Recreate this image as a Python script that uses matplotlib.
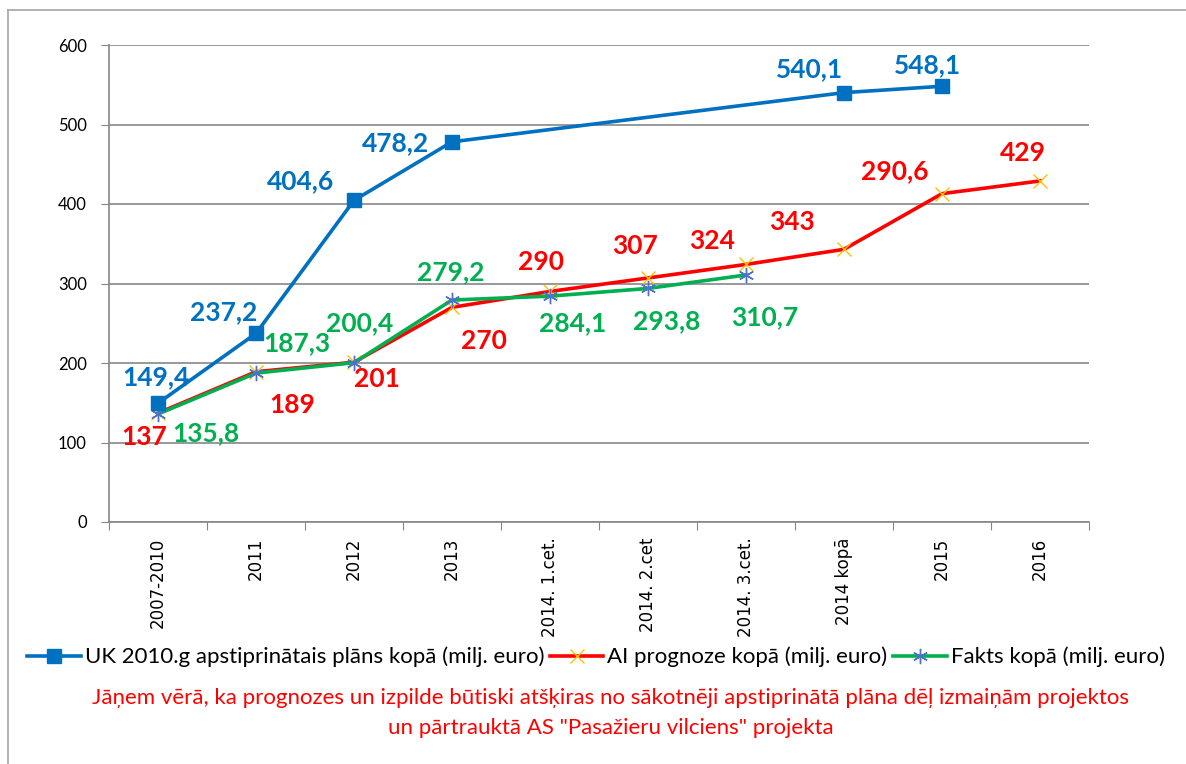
import matplotlib
matplotlib.use("Agg")
import matplotlib.pyplot as plt
from matplotlib.lines import Line2D
import numpy as np

# categories and series
categories = ["2007-2010", "2011", "2012", "2013", "2014. 1.cet.", "2014. 2.cet",
              "2014. 3.cet.", "2014 kopā", "2015", "2016"]
plan_idx = [0, 1, 2, 3, 7, 8]
plan_vals = [149.4, 237.2, 404.6, 478.2, 540.1, 548.1]
prog_vals = [137, 189, 201, 270, 290, 307, 324, 343, 413, 429]
prog_labels = ["137", "189", "201", "270", "290", "307", "324", "343", "290,6", "429"]
fact_vals = [135.8, 187.3, 200.4, 279.2, 284.1, 293.8, 310.7]

legend_names = ["UK 2010.g apstiprinātais plāns kopā (milj. euro)",
                "AI prognoze kopā (milj. euro)",
                "Fakts kopā (milj. euro)"]
note = ("Jāņem vērā, ka prognozes un izpilde būtiski atšķiras no sākotnēji apstiprinātā plāna dēļ izmaiņām projektos\n"
        "un pārtrauktā AS \"Pasažieru vilciens\" projekta")

# label offsets in pixels (dx, dy)
plan_off = [(-2, 26), (-32, 21), (-53, 19), (-56, -1), (-35, 23), (-15, 21)]
prog_off = [(-14, -24), (36, -33), (23, -17), (32, -34), (-9, 29), (-13, 32),
            (-34, 23), (-52, 27), (-47, 23), (-17, 28)]
fact_off = [(48, -19), (41, 30), (6, 40), (-1, 28), (23, -27), (19, -33), (19, -42)]

BLUE = "#0070C0"
RED = "#FF0000"
GREEN = "#00B050"
GRID = "#868686"

plt.rcParams["font.family"] = ["Lato", "DejaVu Sans"]

fig = plt.figure(figsize=(11.86, 7.64), dpi=100)
ax = fig.add_axes([109 / 1186, 1 - 522 / 764, 980 / 1186, 477 / 764])

x_all = np.arange(len(categories))
ax.plot(plan_idx, plan_vals, color=BLUE, lw=2.6, marker="s", ms=10,
        mfc=BLUE, mec=BLUE, zorder=4, label=legend_names[0])
ax.plot(x_all[:len(prog_vals)], prog_vals, color=RED, lw=2.6, marker="x", ms=10,
        mec="#FFC000", mew=1.0, zorder=3, label=legend_names[1])
ax.plot(x_all[:len(fact_vals)], fact_vals, color=GREEN, lw=2.6, marker=(6, 2, 0), ms=11,
        mec="#4F6FD0", mew=1.0, zorder=3.5, label=legend_names[2])

def put_labels(xs, ys, texts, offs, color):
    for xv, yv, t, (dx, dy) in zip(xs, ys, texts, offs):
        ax.annotate(t, (xv, yv), xytext=(dx, dy), textcoords="offset pixels",
                    ha="center", va="center", color=color, fontsize=19,
                    fontweight="bold", zorder=6, annotation_clip=False)

put_labels(plan_idx, plan_vals, [f"{v:.1f}".replace(".", ",") for v in plan_vals], plan_off, BLUE)
put_labels(x_all, prog_vals, prog_labels, prog_off, RED)
put_labels(x_all, fact_vals, [f"{v:.1f}".replace(".", ",") for v in fact_vals], fact_off, GREEN)

ax.set_xlim(-0.5, len(categories) - 0.5)
ax.set_ylim(0, 600)
ax.set_yticks(range(0, 601, 100))
ax.tick_params(axis="y", labelsize=12, length=6, color=GRID, pad=10)
ax.set_xticks(np.arange(-0.5, len(categories), 1.0))
ax.set_xticklabels([])
ax.set_xticks(x_all, minor=True)
ax.set_xticklabels(categories, minor=True, rotation=90, fontsize=12,
                   family="DejaVu Sans", va="top")
ax.tick_params(axis="x", which="major", length=6, color=GRID)
ax.tick_params(axis="x", which="minor", length=0, pad=11)
ax.grid(axis="y", color=GRID, lw=1.2)
ax.set_axisbelow(True)
for s in ["top", "right"]:
    ax.spines[s].set_visible(False)
for s in ["left", "bottom"]:
    ax.spines[s].set_color(GRID)
    ax.spines[s].set_linewidth(1.2)

leg = fig.legend(loc="center", bbox_to_anchor=(596 / 1186, 1 - 657 / 764), ncol=3,
                 frameon=False, fontsize=16, handlelength=2.4, handletextpad=0.18,
                 columnspacing=0.27, borderaxespad=0)

fig.text(611 / 1186, 1 - 713 / 764, note, ha="center", va="center", color=RED,
         fontsize=16, linespacing=1.6)

# outer chart frame (partly outside the image)
fig.add_artist(Line2D([8 / 1186, 8 / 1186], [0, 1 - 10 / 764], color="#A6A6A6", lw=1.2))
fig.add_artist(Line2D([8 / 1186, 1], [1 - 10 / 764, 1 - 10 / 764], color="#A6A6A6", lw=1.2))

fig.savefig("out.png", dpi=100, facecolor="white")
